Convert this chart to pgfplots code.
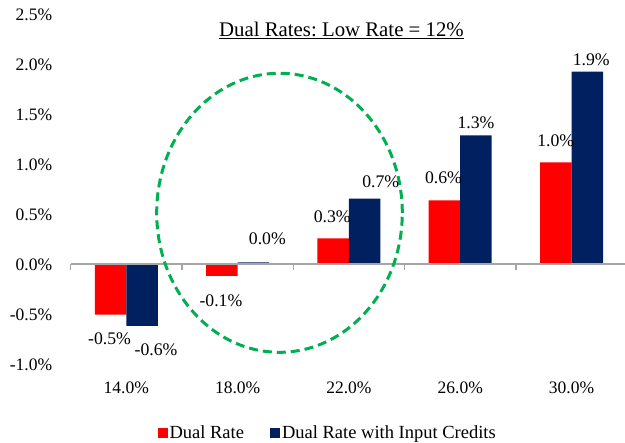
\documentclass[border=0pt]{standalone}
\usepackage{fontspec}
\setmainfont{Liberation Serif}
\usepackage{pgfplots}
\pgfplotsset{compat=1.18}
\usepackage{pgfplotstable}
\definecolor{dualred}{HTML}{FF0000}
\definecolor{dualblue}{HTML}{002060}
\definecolor{circgreen}{HTML}{00B050}
\definecolor{zerogray}{HTML}{A6A6A6}
\frenchspacing

\pgfplotstableread{
x y dx dy
0 -0.502 -1 -24
1 -0.115 -1 -25
2 0.262 -1 21.6
3 0.642 -1 22.6
4 1.022 0 22
}\redtab
\pgfplotstableread{
x y dx dy
0 -0.615 14 -24
1 0.022 14 23.6
2 0.658 16 16.7
3 1.292 0 13
4 1.928 4 12
}\bluetab

\begin{document}
\begin{tikzpicture}
\begin{axis}[
  at={(0pt,0pt)}, anchor=south west,
  width=556.5pt, height=350pt, scale only axis,
  xmin=-0.5, xmax=4.5, ymin=-1, ymax=2.5,
  ybar=0pt, bar width=31.5pt,
  axis line style={draw=none},
  major tick length=0pt,
  xtick={0,1,2,3,4},
  xticklabels={14.0\%,18.0\%,22.0\%,26.0\%,30.0\%},
  ytick={-1,-0.5,0,0.5,1,1.5,2,2.5},
  yticklabel={\pgfmathprintnumber[fixed,fixed zerofill,precision=1]{\tick}\%},
  /pgf/number format/assume math mode=true,
  xticklabel style={font=\fontsize{17.5}{20}\selectfont, anchor=north, inner sep=0pt, yshift=-16.7pt},
  yticklabel style={font=\fontsize{17.5}{20}\selectfont, anchor=east, inner sep=0pt, xshift=-18.4pt},
  nodes near coords={\pgfmathprintnumber[fixed,fixed zerofill,precision=1]{\pgfplotspointmeta}\%},
  visualization depends on={\thisrow{dx} \as \dx},
  visualization depends on={\thisrow{dy} \as \dy},
  nodes near coords style={font=\fontsize{17.7}{20}\selectfont, anchor=center, inner sep=0pt, xshift=\dx pt, yshift=\dy pt},
  legend style={at={(rel axis cs:0.4618,-0.1949)}, anchor=center, draw=none, fill=none,
    legend columns=2, font=\fontsize{18.5}{22}\selectfont,
    /tikz/every even column/.append style={column sep=24pt}},
  clip=false,
]
\addplot[fill=dualred, draw=none,
  legend image code/.code={\fill[dualred] (0pt,-5pt) rectangle (10pt,5pt);}]
  table[x=x,y=y] {\redtab};
\addlegendentry{Dual Rate}
\addplot[fill=dualblue, draw=none,
  legend image code/.code={\fill[dualblue] (0pt,-5pt) rectangle (10pt,5pt);}]
  table[x=x,y=y] {\bluetab};
\addlegendentry{Dual Rate with Input Credits}
\draw[zerogray, line width=2pt] (axis cs:-0.5,0) -- (axis cs:4.5,0);
\pgfplotsinvokeforeach{-0.5,0.5,1.5,2.5,3.5}{
  \draw[zerogray, line width=1.5pt] (axis cs:#1,0) -- ++(0pt,-6pt);
}
\draw[circgreen, line width=3pt, dash pattern=on 9pt off 5pt]
  (axis cs:1.376,0.517) ellipse [x radius=122.8pt, y radius=139.5pt];
\node[anchor=base, inner sep=0pt, font=\fontsize{20.8}{24}\selectfont]
  at (rel axis cs:0.4866,1) [yshift=-22.2pt] {\underline{Dual Rates: Low Rate = 12\%}};
\end{axis}
\pgfresetboundingbox
\path[use as bounding box] (-70.7pt,-78.5pt) rectangle (554.3pt,364.5pt);
\end{tikzpicture}
\end{document}
